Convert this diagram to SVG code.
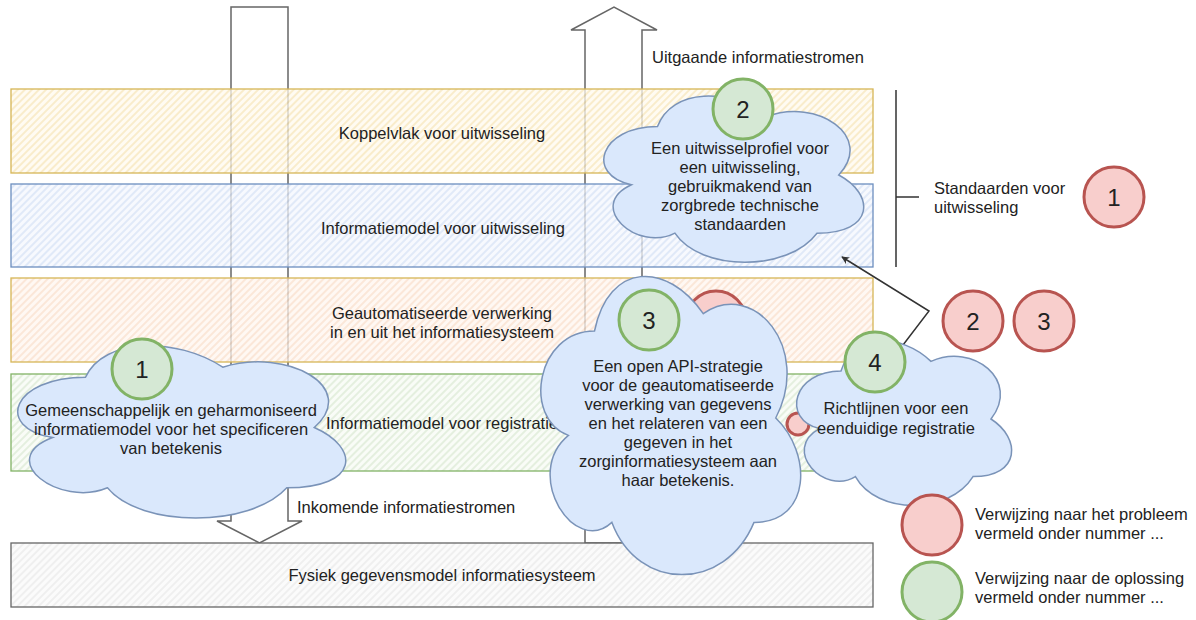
<svg xmlns="http://www.w3.org/2000/svg" width="1196" height="620" viewBox="0 0 1196 620">
<style>
text{font-family:"Liberation Sans",Arial,sans-serif;font-size:16.5px;fill:#222}
.c{text-anchor:middle}
.num{font-size:24px;text-anchor:middle}
.arrow{fill:#fff;stroke:#666;stroke-width:1.5;stroke-linejoin:miter}
.band{fill-opacity:0.75;stroke-width:1.3}
.cloud{fill:#dae8fc;stroke:#7a93b8;stroke-width:1.5}
.green{fill:#d5e8d4;stroke:#82b366;stroke-width:3}
.red{fill:#f8cecc;stroke:#b85450;stroke-width:3}
.line{fill:none;stroke:#333;stroke-width:1.5}
</style>
<defs>
<pattern id="hY" width="5" height="5" patternUnits="userSpaceOnUse" patternTransform="rotate(45)"><rect width="5" height="5" fill="#fffaee"/><line x1="1" y1="0" x2="1" y2="5" stroke="#f5e2ad" stroke-width="1.6"/></pattern>
<pattern id="hB" width="5" height="5" patternUnits="userSpaceOnUse" patternTransform="rotate(45)"><rect width="5" height="5" fill="#f4f7fd"/><line x1="1" y1="0" x2="1" y2="5" stroke="#cfdcf3" stroke-width="1.6"/></pattern>
<pattern id="hO" width="5" height="5" patternUnits="userSpaceOnUse" patternTransform="rotate(45)"><rect width="5" height="5" fill="#fff6ef"/><line x1="1" y1="0" x2="1" y2="5" stroke="#f8d9c2" stroke-width="1.6"/></pattern>
<pattern id="hG" width="5" height="5" patternUnits="userSpaceOnUse" patternTransform="rotate(45)"><rect width="5" height="5" fill="#f7fbf4"/><line x1="1" y1="0" x2="1" y2="5" stroke="#d5e6cc" stroke-width="1.6"/></pattern>
<pattern id="hS" width="5" height="5" patternUnits="userSpaceOnUse" patternTransform="rotate(45)"><rect width="5" height="5" fill="#fafafa"/><line x1="1" y1="0" x2="1" y2="5" stroke="#e6e6e6" stroke-width="1.6"/></pattern>
<marker id="ah" viewBox="0 0 10 10" refX="9" refY="5" markerWidth="8" markerHeight="8" markerUnits="userSpaceOnUse" orient="auto"><path d="M0 0 L10 5 L0 10 L3 5 Z" fill="#333"/></marker>
</defs>

<g id="flow-in">
<polygon class="arrow" points="231,7 288,7 288,521 302,521 259.5,543 217,521 231,521"/>
</g>
<g id="flow-out">
<polygon class="arrow" points="585,543 585,30 571,30 614,7 657,30 642,30 642,543"/>
</g>

<g id="band-koppelvlak">
<rect class="band" x="11" y="89" width="862" height="84" fill="url(#hY)" stroke="#d6b656"/>
<text class="c" x="442" y="139">Koppelvlak voor uitwisseling</text>
</g>
<g id="band-info-uitwisseling">
<rect class="band" x="11" y="184" width="862" height="83" fill="url(#hB)" stroke="#6c8ebf"/>
<text class="c" x="443" y="234">Informatiemodel voor uitwisseling</text>
</g>
<g id="band-verwerking">
<rect class="band" x="11" y="278" width="862" height="84" fill="url(#hO)" stroke="#d6b656"/>
<text class="c" x="442" y="319">Geautomatiseerde verwerking</text>
<text class="c" x="442" y="338">in en uit het informatiesysteem</text>
</g>
<g id="band-info-registratie">
<rect class="band" x="11" y="374" width="862" height="97" fill="url(#hG)" stroke="#82b366"/>
<text class="c" x="442" y="429">Informatiemodel voor registratie</text>
</g>
<g id="band-fysiek">
<rect class="band" x="11" y="543" width="862" height="64" fill="url(#hS)" stroke="#666"/>
<text class="c" x="442" y="581">Fysiek gegevensmodel informatiesysteem</text>
</g>

<g id="label-uitgaande"><text x="652" y="63">Uitgaande informatiestromen</text></g>
<g id="label-inkomende"><text x="297" y="513">Inkomende informatiestromen</text></g>

<g id="hidden-red-4">
<circle class="red" cx="716" cy="321" r="30"/>
<text class="num" x="716" y="330">4</text>
</g>
<g id="hidden-red-b">
<circle class="red" cx="798" cy="424" r="11" stroke-width="2"/>
</g>

<g id="connectors">
<path class="line" d="M903 345 L929 311 L842 257" marker-end="url(#ah)"/>
<path class="line" d="M896 90 L896 267 M896 197 L919 197"/>
</g>

<g id="cloud-2">
<path class="cloud" d="M657.5 126.5 C599.5 126.5 585 175 631.4 184.7 C585 206 637.2 252.6 674.9 233.2 C701 272 788 272 817 233.2 C875 233.2 875 194.4 838.75 175 C875 136.2 817 97.4 766.25 116.8 C730 87.7 672 87.7 657.5 126.5 Z"/>
<text class="c" x="740" y="154">Een uitwisselprofiel voor</text>
<text class="c" x="740" y="173">een uitwisseling,</text>
<text class="c" x="740" y="192">gebruikmakend van</text>
<text class="c" x="740" y="211">zorgbrede technische</text>
<text class="c" x="740" y="230">standaarden</text>
<circle class="green" cx="743" cy="109" r="30"/>
<text class="num" x="743" y="118">2</text>
</g>

<g id="cloud-1">
<path class="cloud" d="M85.5 377.25 C12.3 377.25 -6 427.5 52.56 437.55 C-6 459.66 59.88 507.9 107.46 487.8 C140.4 528 250.2 528 286.8 487.8 C360 487.8 360 447.6 314.25 427.5 C360 387.3 286.8 347.1 222.75 367.2 C177 337.05 103.8 337.05 85.5 377.25 Z"/>
<text class="c" x="171" y="416">Gemeenschappelijk en geharmoniseerd</text>
<text class="c" x="171" y="435">informatiemodel voor het specificeren</text>
<text class="c" x="171" y="454">van betekenis</text>
<circle class="green" cx="142" cy="369" r="30"/>
<text class="num" x="142" y="378">1</text>
</g>

<g id="cloud-3">
<path class="cloud" d="M594.5 331 C536.5 331 522 418 568.4 435.4 C522 473.7 574.2 557.2 611.9 522.4 C638 592 725 592 754 522.4 C812 522.4 812 452.8 775.75 418 C812 348.4 754 278.8 703.25 313.6 C667 261.4 609 261.4 594.5 331 Z"/>
<text class="c" x="678" y="372">Een open API-strategie</text>
<text class="c" x="678" y="391">voor de geautomatiseerde</text>
<text class="c" x="678" y="410">verwerking van gegevens</text>
<text class="c" x="678" y="429">en het relateren van een</text>
<text class="c" x="678" y="448">gegeven in het</text>
<text class="c" x="678" y="467">zorginformatiesysteem aan</text>
<text class="c" x="678" y="486">haar betekenis.</text>
<circle class="green" cx="649" cy="320" r="30"/>
<text class="num" x="649" y="329">3</text>
</g>

<g id="cloud-4">
<path class="cloud" d="M841 371 C793 371 781 419 819.4 428.6 C781 449.7 824.2 495.8 855.4 476.6 C877 515 949 515 973 476.6 C1021 476.6 1021 438.2 991 419 C1021 380.6 973 342.2 931 361.4 C901 332.6 853 332.6 841 371 Z"/>
<text class="c" x="896" y="414">Richtlijnen voor een</text>
<text class="c" x="896" y="434">eenduidige registratie</text>
<circle class="green" cx="875" cy="362" r="30"/>
<text class="num" x="875" y="371">4</text>
</g>

<g id="standaarden">
<text x="934" y="194">Standaarden voor</text>
<text x="934" y="213">uitwisseling</text>
</g>
<g id="red-1">
<circle class="red" cx="1114" cy="197" r="30"/>
<text class="num" x="1114" y="206">1</text>
</g>
<g id="red-2">
<circle class="red" cx="973" cy="321" r="30"/>
<text class="num" x="973" y="330">2</text>
</g>
<g id="red-3">
<circle class="red" cx="1044" cy="321" r="30"/>
<text class="num" x="1044" y="330">3</text>
</g>

<g id="legend-red">
<circle class="red" cx="932" cy="525" r="30"/>
<text x="975" y="520">Verwijzing naar het probleem</text>
<text x="975" y="539">vermeld onder nummer ...</text>
</g>
<g id="legend-green">
<circle class="green" cx="932" cy="592" r="30"/>
<text x="975" y="584">Verwijzing naar de oplossing</text>
<text x="975" y="603">vermeld onder nummer ...</text>
</g>
</svg>
